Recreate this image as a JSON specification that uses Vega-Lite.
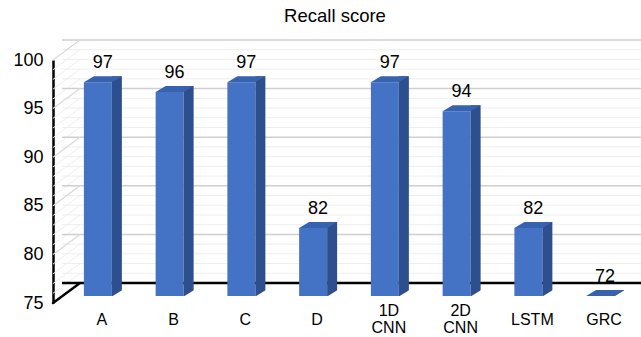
{
  "$schema": "https://vega.github.io/schema/vega-lite/v6.json",
  "width": 574,
  "height": 243,
  "autosize": {"type": "none"},
  "padding": {"left": 62, "top": 60, "right": 5, "bottom": 34},
  "background": "white",
  "config": {"font": "Liberation Sans", "view": {"stroke": null}},
  "title": {
    "text": "Recall score",
    "fontSize": 18.5,
    "fontWeight": "normal",
    "color": "#000000",
    "anchor": "middle",
    "dx": -14,
    "offset": 14
  },
  "datasets": {
    "scores": [
      {"model": "A", "recall": 97},
      {"model": "B", "recall": 96},
      {"model": "C", "recall": 97},
      {"model": "D", "recall": 82},
      {"model": "1D CNN", "recall": 97},
      {"model": "2D CNN", "recall": 94},
      {"model": "LSTM", "recall": 82},
      {"model": "GRC", "recall": 72}
    ],
    "levels": [
      {"v": 75}, {"v": 76}, {"v": 77}, {"v": 78}, {"v": 79},
      {"v": 80}, {"v": 81}, {"v": 82}, {"v": 83}, {"v": 84},
      {"v": 85}, {"v": 86}, {"v": 87}, {"v": 88}, {"v": 89},
      {"v": 90}, {"v": 91}, {"v": 92}, {"v": 93}, {"v": 94},
      {"v": 95}, {"v": 96}, {"v": 97}, {"v": 98}, {"v": 99},
      {"v": 100}
    ]
  },
  "layer": [
    {
      "data": {"name": "levels"},
      "transform": [{"filter": "datum.v % 5 !== 0"}],
      "mark": {"type": "rule", "color": "#eeeeee", "strokeWidth": 1, "yOffset": -20, "xOffset": 18, "x2Offset": 5},
      "encoding": {
        "y": {
          "field": "v",
          "type": "quantitative",
          "title": null,
          "scale": {"domain": [75, 100], "clamp": true, "nice": false, "zero": false},
          "axis": {
            "values": [75, 80, 85, 90, 95, 100],
            "grid": false,
            "ticks": false,
            "domain": true,
            "domainColor": "#000000",
            "domainWidth": 2.5,
            "labelFontSize": 18,
            "labelColor": "#000000",
            "labelPadding": 10,
            "offset": 9,
            "title": null
          }
        }
      }
    },
    {
      "data": {"name": "levels"},
      "transform": [{"filter": "datum.v % 5 !== 0"}],
      "mark": {"type": "rule", "color": "#eeeeee", "strokeWidth": 1, "y2Offset": -20},
      "encoding": {
        "x": {"value": -9},
        "x2": {"value": 18},
        "y": {"field": "v", "type": "quantitative", "title": null},
        "y2": {"field": "v"}
      }
    },
    {
      "data": {"name": "levels"},
      "transform": [{"filter": "datum.v % 5 === 0 && datum.v > 75"}],
      "mark": {"type": "rule", "color": "#cfcfcf", "strokeWidth": 1.5, "yOffset": -20, "xOffset": 18, "x2Offset": 5},
      "encoding": {
        "y": {"field": "v", "type": "quantitative", "title": null}
      }
    },
    {
      "data": {"name": "levels"},
      "transform": [{"filter": "datum.v % 5 === 0 && datum.v > 75"}],
      "mark": {"type": "rule", "color": "#d9d9d9", "strokeWidth": 1.2, "y2Offset": -20},
      "encoding": {
        "x": {"value": -9},
        "x2": {"value": 18},
        "y": {"field": "v", "type": "quantitative", "title": null},
        "y2": {"field": "v"}
      }
    },
    {
      "data": {"name": "levels"},
      "transform": [{"filter": "datum.v === 75"}],
      "mark": {"type": "rule", "color": "#000000", "strokeWidth": 2.5, "yOffset": -20, "xOffset": 18, "x2Offset": 5},
      "encoding": {
        "y": {"field": "v", "type": "quantitative", "title": null}
      }
    },
    {
      "data": {"name": "levels"},
      "transform": [{"filter": "datum.v === 75"}],
      "mark": {"type": "rule", "color": "#000000", "strokeWidth": 2.5, "strokeCap": "round", "y2Offset": -20},
      "encoding": {
        "x": {"value": -9},
        "x2": {"value": 18},
        "y": {"field": "v", "type": "quantitative", "title": null},
        "y2": {"field": "v"}
      }
    },
    {
      "data": {"name": "scores"},
      "mark": {"type": "bar", "color": "#4472C4", "yOffset": -7, "y2Offset": -7},
      "encoding": {
        "x": {
          "field": "model",
          "type": "nominal",
          "sort": null,
          "title": null,
          "scale": {"paddingInner": 0.61, "paddingOuter": 0.305},
          "axis": {
            "title": null,
            "domain": false,
            "ticks": false,
            "labelAngle": 0,
            "labelFontSize": 16,
            "labelColor": "#000000",
            "labelPadding": {
              "condition": {"test": "indexof(datum.value, ' ') >= 0", "value": 7.5},
              "value": 16.5
            },
            "labelOffset": 4,
            "labelBaseline": "middle",
            "labelLineHeight": 17,
            "labelExpr": "split(datum.label, ' ')"
          }
        },
        "y": {"field": "recall", "type": "quantitative", "title": null},
        "y2": {"datum": 75}
      }
    },
    {
      "data": {"name": "scores"},
      "mark": {"type": "bar", "color": "#2D4F8E", "width": 10, "xOffset": 19, "yOffset": -13, "y2Offset": -7},
      "encoding": {
        "x": {"field": "model", "type": "nominal", "sort": null, "title": null},
        "y": {"field": "recall", "type": "quantitative", "title": null},
        "y2": {"datum": 75}
      }
    },
    {
      "data": {"name": "scores"},
      "mark": {"type": "point", "filled": true, "opacity": 1, "color": "#ffffff", "size": 144, "xOffset": 19, "yOffset": -10, "shape": "M-0.83,0.6L1,0.6L1,-0.55Z"},
      "encoding": {
        "x": {"field": "model", "type": "nominal", "sort": null, "title": null},
        "y": {"datum": 75}
      }
    },
    {
      "data": {"name": "scores"},
      "mark": {"type": "point", "filled": true, "opacity": 1, "color": "#3762AE", "size": 1444, "xOffset": 5, "yOffset": -10, "shape": "M-1,0.158L0.474,0.158L1,-0.158L-0.474,-0.158Z"},
      "encoding": {
        "x": {"field": "model", "type": "nominal", "sort": null, "title": null},
        "y": {"field": "recall", "type": "quantitative", "title": null}
      }
    },
    {
      "data": {"name": "scores"},
      "mark": {"type": "text", "fontSize": 18, "color": "#000000", "baseline": "alphabetic", "xOffset": 5, "yOffset": -21},
      "encoding": {
        "x": {"field": "model", "type": "nominal", "sort": null, "title": null},
        "y": {"field": "recall", "type": "quantitative", "title": null},
        "text": {"field": "recall", "type": "quantitative"}
      }
    }
  ]
}
